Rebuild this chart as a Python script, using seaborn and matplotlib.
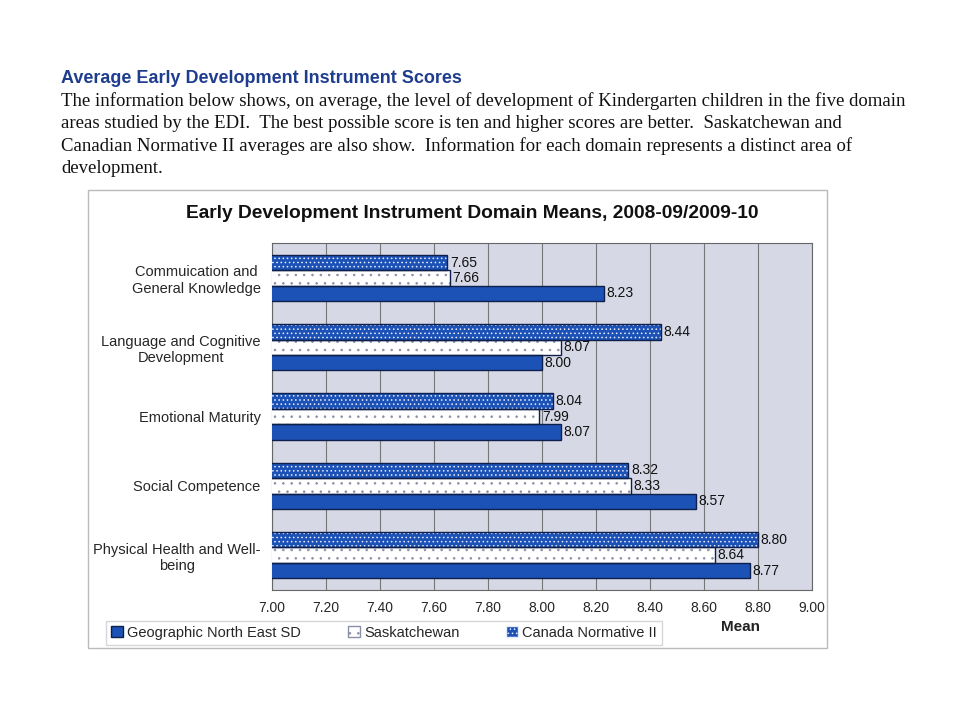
import matplotlib
matplotlib.use("Agg")
import matplotlib.pyplot as plt
import matplotlib.patches as mpatches
import pandas as pd
import seaborn as sns

# =========================
# DATA
# =========================
domains = [
    "Commuication and\nGeneral Knowledge",
    "Language and Cognitive\nDevelopment",
    "Emotional Maturity",
    "Social Competence",
    "Physical Health and Well-\nbeing",
]
series = ["Canada Normative II", "Saskatchewan", "Geographic North East SD"]
canada = [7.65, 8.44, 8.04, 8.32, 8.80]
sask = [7.66, 8.07, 7.99, 8.33, 8.64]
north_east = [8.23, 8.00, 8.07, 8.57, 8.77]
ticks = [7.0, 7.2, 7.4, 7.6, 7.8, 8.0, 8.2, 8.4, 8.6, 8.8, 9.0]

df = pd.DataFrame({
    "domain": domains * 3,
    "series": [s for s in series for _ in domains],
    "mean": canada + sask + north_east,
})

blue = "#1c52b5"
navy = "#0d1f4a"

# =========================
# FIGURE
# =========================
sns.set_style("white")
plt.rcParams["font.family"] = ["Liberation Sans", "DejaVu Sans"]
plt.rcParams["hatch.linewidth"] = 0.6

fig = plt.figure(figsize=(9.6, 7.2), dpi=100)

# page text
fig.text(0.064, 0.885, "Average Early Development Instrument Scores",
         fontsize=13, fontweight="bold", color="#1f3d8f")
para = ("The information below shows, on average, the level of development of Kindergarten children in the five domain\n"
        "areas studied by the EDI.  The best possible score is ten and higher scores are better.  Saskatchewan and\n"
        "Canadian Normative II averages are also show.  Information for each domain represents a distinct area of\n"
        "development.")
fig.text(0.064, 0.872, para, fontsize=13.5, family="Liberation Serif", va="top",
         linespacing=1.38, color="#111111")

# chart frame
fig.patches.append(mpatches.Rectangle((0.092, 0.1), 0.769, 0.636, transform=fig.transFigure,
                                      fill=False, edgecolor="#bbbbbb", lw=1))
fig.text(0.492, 0.697, "Early Development Instrument Domain Means, 2008-09/2009-10",
         ha="center", fontsize=13.8, fontweight="bold", color="#111111")

ax = fig.add_axes([0.283, 0.181, 0.563, 0.481])
ax.set_facecolor("#d6d8e6")

sns.barplot(data=df, y="domain", x="mean", hue="series", hue_order=series,
            order=domains, orient="h", width=0.67, dodge=True, saturation=1,
            palette=[blue, "white", blue], edgecolor=navy, linewidth=1,
            legend=False, ax=ax, zorder=3)

conts = ax.containers
# Canada: blue with white dots, Saskatchewan: white with sparse grey dots
for c, hatch, hcol in [(conts[0], "....", "#e8ecff"), (conts[1], "..", "#8a8fa8")]:
    for p in c:
        p.set_hatch(hatch)
        p.set_edgecolor(hcol)
        p.set_linewidth(0)
        ax.add_patch(mpatches.Rectangle((p.get_x(), p.get_y()), p.get_width(), p.get_height(),
                                        fill=False, edgecolor=navy, lw=1, zorder=4))

for c, vals in zip(conts, [canada, sask, north_east]):
    for p, v in zip(c, vals):
        ax.text(v + 0.01, p.get_y() + p.get_height() / 2, f"{v:.2f}",
                va="center", ha="left", fontsize=10, color="#111111", zorder=5)

ax.set_xlim(7.0, 9.0)
ax.set_xticks(ticks)
ax.set_xticklabels([f"{t:.2f}" for t in ticks], fontsize=10)
ax.grid(axis="x", color="#777777", lw=0.8, zorder=0)
ax.set_axisbelow(True)
ax.tick_params(axis="y", labelsize=10.5, length=0, pad=8)
ax.tick_params(axis="x", length=0, pad=8)
for lbl in ax.get_yticklabels():
    lbl.set_multialignment("center")
ax.set_ylabel("")
ax.set_xlabel("")
for s in ax.spines.values():
    s.set_color("#666666")
    s.set_linewidth(0.8)

fig.text(0.771, 0.123, "Mean", ha="center", fontsize=11, fontweight="bold", color="#222222")

# legend
handles = [
    mpatches.Patch(facecolor=blue, edgecolor=navy, label="Geographic North East SD"),
    mpatches.Patch(facecolor="white", edgecolor="#8a8fa8", hatch="..", label="Saskatchewan"),
    mpatches.Patch(facecolor=blue, edgecolor="#e8ecff", hatch="....", label="Canada Normative II"),
]
fig.legend(handles=handles, loc="center left", bbox_to_anchor=(0.103, 0.121),
           ncol=3, frameon=True, fancybox=False, edgecolor="#cccccc", fontsize=10.5,
           handlelength=0.8, handleheight=0.8, handletextpad=0.3, columnspacing=3.2,
           borderpad=0.35)

plt.savefig("out.png", dpi=100)
